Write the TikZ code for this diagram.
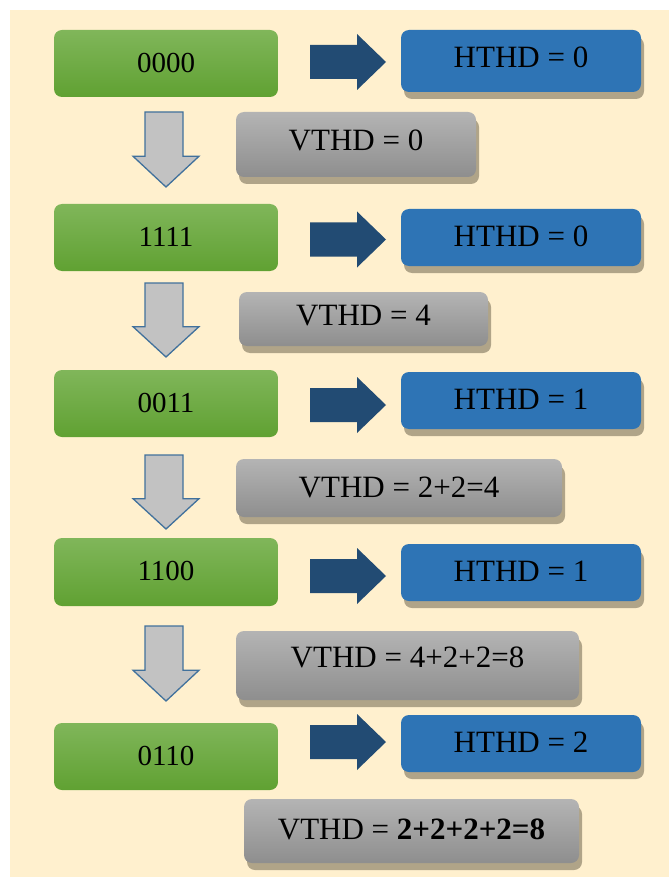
\documentclass[tikz,border=0pt]{standalone}
\usepackage{fontspec}
\setmainfont{Liberation Serif}
\usetikzlibrary{shadows}
\definecolor{cream}{RGB}{255,240,206}
\definecolor{gtop}{RGB}{128,182,90}
\definecolor{gbot}{RGB}{96,161,50}
\definecolor{bluebox}{RGB}{46,116,181}
\definecolor{graytop}{RGB}{180,180,180}
\definecolor{graybot}{RGB}{142,142,142}
\definecolor{tan}{RGB}{176,164,136}
\definecolor{darkarrow}{RGB}{34,75,115}
\definecolor{arrowgray}{RGB}{194,194,194}
\definecolor{arrowedge}{RGB}{65,113,156}
\tikzset{
  boxbase/.style={rectangle, rounded corners=8pt, inner sep=0pt, align=center,
    font=\fontsize{31}{34}\selectfont},
  greenbox/.style={boxbase, top color=gtop, bottom color=gbot, draw=none,
    font=\fontsize{29}{32}\selectfont},
  bluebox/.style={boxbase, fill=bluebox,
    drop shadow={shadow xshift=3pt, shadow yshift=-7pt, fill=tan, opacity=1}},
  graybox/.style={boxbase, top color=graytop, bottom color=graybot,
    drop shadow={shadow xshift=3pt, shadow yshift=-7pt, fill=tan, opacity=1}},
  rarrow/.style={fill=darkarrow},
  darrow/.style={fill=arrowgray, draw=arrowedge, line width=1.3pt, line join=miter},
}
\newcommand\rightarrowshape[1]{% centre y
  \fill[rarrow] (310,#1-17) -- (357,#1-17) -- (357,#1-28) -- (386,#1) -- (357,#1+28) -- (357,#1+17) -- (310,#1+17) -- cycle;}
\newcommand\downarrowshape[2]{% top y, tip y
  \filldraw[darrow] (145,#1) -- (183,#1) -- (183,{#1+0.59*(#2-#1)}) -- (199,{#1+0.59*(#2-#1)}) -- (166,#2) -- (133,{#1+0.59*(#2-#1)}) -- (145,{#1+0.59*(#2-#1)}) -- cycle;}
\newcommand\up[2]{\raisebox{#1pt}{#2}}
\begin{document}
\begin{tikzpicture}[x=1pt,y=-1pt]
\useasboundingbox (0,0) rectangle (669,877);
\fill[white] (0,0) rectangle (669,877);
\fill[cream] (10,10) rectangle (669,877);

% green boxes
\node[greenbox, minimum width=224pt, minimum height=67pt] (g1) at (166,63.5) {\up{2}{0000}};
\node[greenbox, minimum width=224pt, minimum height=67pt] (g2) at (166,237.5) {\up{2}{1111}};
\node[greenbox, minimum width=224pt, minimum height=67pt] (g3) at (166,403.5) {\up{2}{0011}};
\node[greenbox, minimum width=224pt, minimum height=68pt] (g4) at (166,572) {\up{2}{1100}};
\node[greenbox, minimum width=224pt, minimum height=67pt] (g5) at (166,756.5) {\up{2}{0110}};

% blue boxes
\node[bluebox, minimum width=240pt, minimum height=62pt] (b1) at (521,61) {\up{8}{HTHD = 0}};
\node[bluebox, minimum width=240pt, minimum height=57pt] (b2) at (521,237.5) {\up{2}{HTHD = 0}};
\node[bluebox, minimum width=240pt, minimum height=57pt] (b3) at (521,400.5) {\up{2}{HTHD = 1}};
\node[bluebox, minimum width=240pt, minimum height=57pt] (b4) at (521,572.5) {\up{2}{HTHD = 1}};
\node[bluebox, minimum width=240pt, minimum height=57pt] (b5) at (521,743.5) {\up{2}{HTHD = 2}};

% gray boxes
\node[graybox, minimum width=240pt, minimum height=65pt] (v1) at (356,144.5) {\up{9}{VTHD = 0}};
\node[graybox, minimum width=249pt, minimum height=54pt] (v2) at (363.5,319) {\up{7}{VTHD = 4}};
\node[graybox, minimum width=326pt, minimum height=58pt] (v3) at (399,488) {\up{1}{VTHD = 2+2=4}};
\node[graybox, minimum width=343pt, minimum height=69pt] (v4) at (407.5,665.5) {\up{17}{VTHD = 4+2+2=8}};
\node[graybox, minimum width=335pt, minimum height=64pt] (v5) at (411.5,831) {\up{4}{VTHD = \textbf{2+2+2+2=8}}};

% right block arrows
\rightarrowshape{62}
\rightarrowshape{239.5}
\rightarrowshape{405}
\rightarrowshape{576}
\rightarrowshape{742}

% down block arrows
\downarrowshape{112}{187}
\downarrowshape{283}{357}
\downarrowshape{455}{529}
\downarrowshape{626}{701}
\end{tikzpicture}
\end{document}
